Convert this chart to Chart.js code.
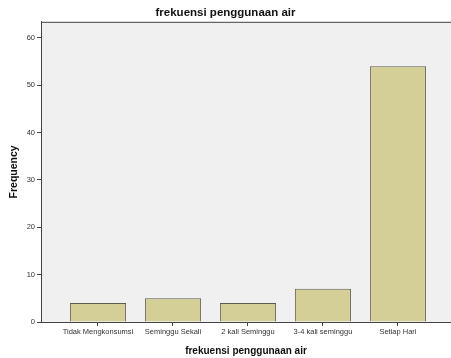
<!DOCTYPE html>
<html>
<head>
<meta charset="utf-8">
<script src="https://cdn.jsdelivr.net/npm/chart.js@4/dist/chart.umd.min.js"></script>
<style>
  html, body { margin: 0; padding: 0; background: #ffffff; overflow: hidden; }
  canvas { display: block; }
</style>
</head>
<body>
<canvas id="chart" width="451" height="358"></canvas>
<script>
// Frekuensi penggunaan air (counts per category)
const categories = ['Tidak Mengkonsumsi', 'Seminggu Sekali', '2 kali Seminggu', '3-4 kali seminggu', 'Setiap Hari'];
const frequencies = [4, 5, 4, 7, 54];
const yTicks = [0, 10, 20, 30, 40, 50, 60];

const axisColor = '#444444';
const textColor = '#333333';

// Light grey plot panel with a top frame line
const panelPlugin = {
  id: 'panel',
  beforeDraw(chart) {
    const { ctx, chartArea: a } = chart;
    ctx.save();
    ctx.fillStyle = '#f0f0f0';
    ctx.fillRect(a.left, a.top, a.right - a.left, a.bottom - a.top);
    ctx.strokeStyle = axisColor;
    ctx.lineWidth = 1;
    ctx.beginPath();
    ctx.moveTo(a.left, a.top + 0.5);
    ctx.lineTo(a.right, a.top + 0.5);
    ctx.stroke();
    ctx.restore();
  }
};

new Chart(document.getElementById('chart'), {
  type: 'bar',
  data: {
    datasets: [{
      data: frequencies.map((v, i) => ({ x: i, y: v })),
      backgroundColor: '#d3cf96',
      borderColor: '#5c5c4e',
      borderWidth: 1,
      borderSkipped: 'bottom',
      categoryPercentage: 1.0,
      barPercentage: 0.75
    }]
  },
  options: {
    responsive: false,
    animation: false,
    devicePixelRatio: 1,
    layout: { padding: { left: 0, right: 0, top: 0, bottom: 0 } },
    plugins: {
      legend: { display: false },
      tooltip: { enabled: false },
      title: {
        display: true,
        text: 'frekuensi penggunaan air',
        color: '#111111',
        font: { family: 'Arial, "Liberation Sans", sans-serif', size: 11.5, weight: 'bold', lineHeight: 1.2 },
        padding: { top: 6, bottom: 2 }
      }
    },
    scales: {
      x: {
        type: 'linear',
        min: -0.76,
        max: 4.707,
        offset: false,
        afterBuildTicks(scale) {
          scale.ticks = categories.map((_, i) => ({ value: i }));
        },
        afterFit(scale) { scale.height = 36; },
        ticks: {
          autoSkip: false,
          maxRotation: 0,
          padding: 1.5,
          color: textColor,
          font: { family: 'Arial, "Liberation Sans", sans-serif', size: 7.5 },
          callback: (v) => categories[v] ?? ''
        },
        grid: {
          offset: false,
          drawOnChartArea: false,
          drawTicks: true,
          tickLength: 4,
          color: axisColor
        },
        border: { display: true, color: axisColor, width: 1 },
        title: {
          display: true,
          text: 'frekuensi penggunaan air',
          color: '#111111',
          font: { family: 'Arial, "Liberation Sans", sans-serif', size: 10, weight: 'bold', lineHeight: 1.2 },
          padding: { top: 0, bottom: 1 }
        }
      },
      y: {
        min: 0,
        max: 63.4,
        afterBuildTicks(scale) {
          scale.ticks = yTicks.map(v => ({ value: v }));
        },
        afterFit(scale) { scale.width = 41; },
        ticks: {
          padding: 2,
          color: textColor,
          font: { family: 'Arial, "Liberation Sans", sans-serif', size: 7.5 }
        },
        grid: {
          drawOnChartArea: false,
          drawTicks: true,
          tickLength: 4,
          color: axisColor
        },
        border: { display: true, color: axisColor, width: 1 },
        title: {
          display: true,
          text: 'Frequency',
          color: '#111111',
          font: { family: 'Arial, "Liberation Sans", sans-serif', size: 10.5, weight: 'bold', lineHeight: 1.2 },
          padding: { top: 8, bottom: 0 }
        }
      }
    }
  },
  plugins: [panelPlugin]
});
</script>
</body>
</html>
